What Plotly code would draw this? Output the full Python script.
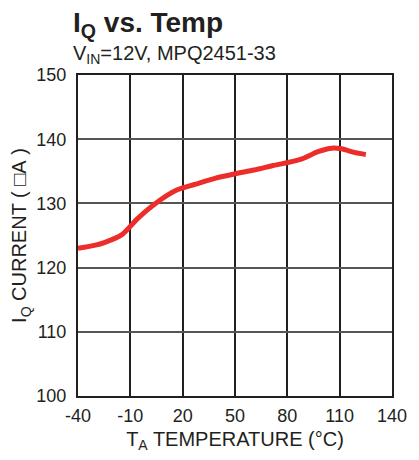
import plotly.graph_objects as go

temp_c = [-40, -30, -25, -15, -6, 5, 16, 27.5, 38.5, 50, 61, 72, 87, 98, 105.5, 111, 119, 125]
iq_ua = [123.0, 123.5, 123.9, 125.1, 127.6, 130.1, 132.0, 133.0, 133.9, 134.6, 135.2, 135.9, 136.8, 138.1, 138.6, 138.5, 137.9, 137.6]

x_ticks = [-40, -10, 20, 50, 80, 110, 140]
x_tick_labels = ["-40", "-10", "20", "50", "80", "110", "140"]
y_ticks = [100, 110, 120, 130, 140, 150]

FONT = "Liberation Sans, Arial, sans-serif"
W, H = 419, 460
ML, MR, MT, MB = 78, 19, 75, 64

fig = go.Figure()
fig.add_trace(go.Scatter(
    x=temp_c, y=iq_ua, mode="lines",
    line=dict(color="#ec2d2a", width=5, shape="spline", smoothing=0.8),
    showlegend=False,
))

fig.update_layout(
    width=W, height=H,
    margin=dict(l=ML, r=MR, t=MT, b=MB),
    paper_bgcolor="white", plot_bgcolor="white",
    font=dict(family=FONT, color="#231f20", size=18),
    xaxis=dict(
        range=[-40, 140], tickvals=x_ticks, ticktext=x_tick_labels, ticks="", showgrid=True,
        gridcolor="#231f20", gridwidth=1.5, zeroline=False,
        showline=True, linecolor="#231f20", linewidth=2, mirror=True,
        tickfont=dict(size=18), ticklabelstandoff=2,
        title=dict(text="T<sub>A</sub> TEMPERATURE (°C)", font=dict(size=20), standoff=7),
    ),
    yaxis=dict(
        range=[100, 150], tickvals=y_ticks, ticks="", showgrid=True,
        gridcolor="#555555", gridwidth=1.5, zeroline=False,
        showline=True, linecolor="#231f20", linewidth=2, mirror=True,
        tickfont=dict(size=18), ticklabelstandoff=6,
        title=dict(text="I<sub>Q</sub> CURRENT (\u00a0□A\u00a0)", font=dict(size=20), standoff=4),
    ),
)

pw = W - ML - MR
ph = H - MT - MB
def px_to_paper(x, y):
    return (x - ML) / pw, (H - y - MB) / ph

tx, ty = px_to_paper(71, 5)
sx, sy = px_to_paper(71, 40)
fig.add_annotation(text="<b>I<sub>Q</sub> vs. Temp</b>", x=tx, y=ty, xref="paper", yref="paper",
                   showarrow=False, xanchor="left", yanchor="top", font=dict(size=28))
fig.add_annotation(text="V<sub>IN</sub>=12V, MPQ2451-33", x=sx, y=sy, xref="paper", yref="paper",
                   showarrow=False, xanchor="left", yanchor="top", font=dict(size=20))

fig.write_html("out.html", config={"displayModeBar": False},
               post_script="document.body.style.margin='0';document.body.style.overflow='hidden';")
